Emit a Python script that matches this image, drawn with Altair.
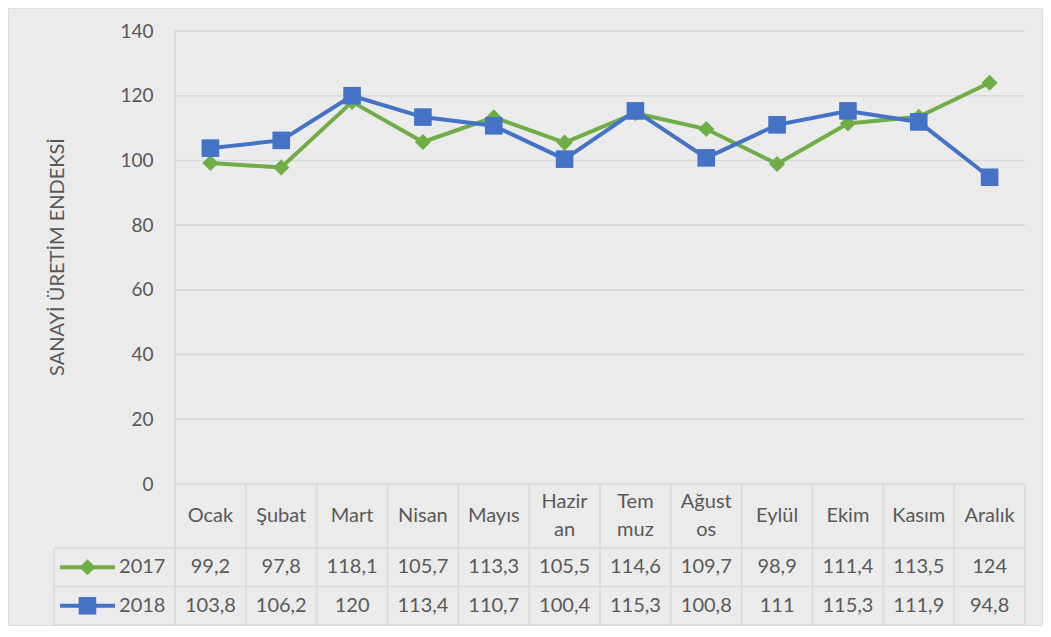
import altair as alt
import pandas as pd

# ---- data ----
months = ["Ocak", "Şubat", "Mart", "Nisan", "Mayıs", "Haziran", "Temmuz",
          "Ağustos", "Eylül", "Ekim", "Kasım", "Aralık"]
header_labels = ["Ocak", "Şubat", "Mart", "Nisan", "Mayıs", "Hazir\nan", "Tem\nmuz",
                 "Ağust\nos", "Eylül", "Ekim", "Kasım", "Aralık"]
series_names = ["2017", "2018"]
values_2017 = [99.2, 97.8, 118.1, 105.7, 113.3, 105.5, 114.6, 109.7, 98.9, 111.4, 113.5, 124]
values_2018 = [103.8, 106.2, 120, 113.4, 110.7, 100.4, 115.3, 100.8, 111, 115.3, 111.9, 94.8]
y_ticks = [0, 20, 40, 60, 80, 100, 120, 140]
y_title = "SANAYİ ÜRETİM ENDEKSİ"

# ---- layout / style (data-unit positions of table structure) ----
GREEN = "#70ad47"
BLUE = "#4472c4"
TEXT = "#595959"
GRID = "#d9d9d9"
BG = "#ebebeb"
FONT = "Lato"
N = len(months)
HEADER_BOTTOM = -19.78
ROW1_BOTTOM = -31.68
ROW2_BOTTOM = -43.58
LEGEND_LEFT = -1.708
HEADER_MID = (0 + HEADER_BOTTOM) / 2
ROW1_MID = (HEADER_BOTTOM + ROW1_BOTTOM) / 2
ROW2_MID = (ROW1_BOTTOM + ROW2_BOTTOM) / 2
SYM_X0, SYM_X1, SYM_XM, LBL_X = -1.624, -0.847, -1.236, -0.79
LINE_H = 28

W, H = 1035, 618
xscale = alt.Scale(domain=[-2.3576, 12.254], nice=False, zero=False)
yscale = alt.Scale(domain=[-43.88, 147.108], nice=False, zero=False)
yaxis = alt.Axis(values=y_ticks, orient="left", offset=-167, grid=False, domain=False,
                 ticks=False, labelPadding=22, labelFont=FONT, labelFontSize=19,
                 labelColor=TEXT, title=y_title, titleFont=FONT, titleFontSize=20,
                 titleFontWeight="normal", titleColor=TEXT, titleAngle=270,
                 titleX=-118, titleY=248.5, titleAlign="center", titleBaseline="middle")


def fmt(v):
    return f"{v:g}".replace(".", ",")


def X(field="x"):
    return alt.X(f"{field}:Q", scale=xscale, axis=None)


def Y(field="y"):
    return alt.Y(f"{field}:Q", scale=yscale, axis=yaxis)


# gridlines + table lines
rules = []
for t in y_ticks[1:]:
    rules.append({"x": 0, "x2": N, "y": t, "y2": t})
rules.append({"x": 0, "x2": N, "y": 0, "y2": 0})
for yy in [HEADER_BOTTOM, ROW1_BOTTOM, ROW2_BOTTOM]:
    rules.append({"x": LEGEND_LEFT, "x2": N, "y": yy, "y2": yy})
rules.append({"x": 0, "x2": 0, "y": y_ticks[-1], "y2": ROW2_BOTTOM})
for i in range(1, N + 1):
    rules.append({"x": i, "x2": i, "y": 0, "y2": ROW2_BOTTOM})
rules.append({"x": LEGEND_LEFT, "x2": LEGEND_LEFT, "y": HEADER_BOTTOM, "y2": ROW2_BOTTOM})
rules_df = pd.DataFrame(rules)

rule_layer = alt.Chart(rules_df).mark_rule(color=GRID, strokeWidth=1.6).encode(
    x=X(), x2="x2:Q", y=Y(), y2="y2:Q")

df17 = pd.DataFrame({"x": [i + 0.5 for i in range(N)], "y": values_2017,
                     "label": [fmt(v) for v in values_2017], "ty": ROW1_MID})
df18 = pd.DataFrame({"x": [i + 0.5 for i in range(N)], "y": values_2018,
                     "label": [fmt(v) for v in values_2018], "ty": ROW2_MID})
hdr = pd.DataFrame({"x": [i + 0.5 for i in range(N)], "y": HEADER_MID, "label": header_labels})
hdr["lines"] = hdr["label"].str.count("\n") + 1
hdr1 = hdr[hdr["lines"] == 1]
hdr2 = hdr[hdr["lines"] == 2]

line17 = alt.Chart(df17).mark_line(color=GREEN, strokeWidth=4).encode(x=X(), y=Y())
pts17 = alt.Chart(df17).mark_point(shape="diamond", filled=True, size=260, color=GREEN,
                                   opacity=1).encode(x=X(), y=Y())
line18 = alt.Chart(df18).mark_line(color=BLUE, strokeWidth=4).encode(x=X(), y=Y())
pts18 = alt.Chart(df18).mark_point(shape="square", filled=True, size=310, color=BLUE,
                                   opacity=1).encode(x=X(), y=Y())

txt_kw = dict(font=FONT, fontSize=20, color=TEXT, align="center", baseline="middle")
hdr_text1 = alt.Chart(hdr1).mark_text(**txt_kw).encode(x=X(), y=Y(), text="label:N")
hdr_text2 = alt.Chart(hdr2).mark_text(lineBreak="\n", lineHeight=LINE_H, dy=-LINE_H / 2,
                                      **txt_kw).encode(x=X(), y=Y(), text="label:N")
val17 = alt.Chart(df17).mark_text(**txt_kw).encode(x=X(), y=Y("ty"), text="label:N")
val18 = alt.Chart(df18).mark_text(**txt_kw).encode(x=X(), y=Y("ty"), text="label:N")

# legend keys inside table
leg = pd.DataFrame({"x": [SYM_X0, SYM_X0], "x2": [SYM_X1, SYM_X1], "xm": [SYM_XM, SYM_XM],
                    "lx": [LBL_X, LBL_X], "y": [ROW1_MID, ROW2_MID], "name": series_names,
                    "color": [GREEN, BLUE]})
leg_line = alt.Chart(leg).mark_rule(strokeWidth=4).encode(
    x=X(), x2="x2:Q", y=Y(), color=alt.Color("color:N", scale=None))
leg_pt17 = alt.Chart(leg.iloc[[0]]).mark_point(shape="diamond", filled=True, size=260,
                                               color=GREEN, opacity=1).encode(x=X("xm"), y=Y())
leg_pt18 = alt.Chart(leg.iloc[[1]]).mark_point(shape="square", filled=True, size=310,
                                               color=BLUE, opacity=1).encode(x=X("xm"), y=Y())
leg_txt = alt.Chart(leg).mark_text(font=FONT, fontSize=20, color=TEXT, align="left",
                                   baseline="middle").encode(x=X("lx"), y=Y(), text="name:N")

chart = alt.layer(
    rule_layer, line17, pts17, line18, pts18, hdr_text1, hdr_text2, val17, val18,
    leg_line, leg_pt17, leg_pt18, leg_txt
).properties(
    width=W, height=H, autosize=alt.AutoSizeParams(type="none"), padding=0,
    background=BG
).configure_view(stroke=GRID, strokeWidth=1.5)

chart.save("out.html", embed_options={"renderer": "svg", "actions": False})
